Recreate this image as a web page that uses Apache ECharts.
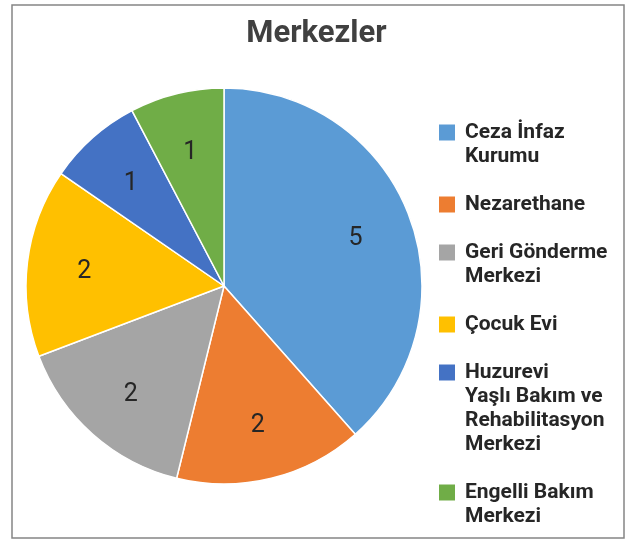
<!DOCTYPE html>
<html>
<head>
<meta charset="utf-8">
<title>Merkezler</title>
<script src="https://cdn.jsdelivr.net/npm/echarts@6/dist/echarts.min.js"></script>
<style>
    html, body { margin: 0; padding: 0; background: #fff; }
    #chart { width: 633px; height: 540px; }
</style>
</head>
<body>
<div id="chart"></div>
<script>
// veriler
const categories = [
    "Ceza İnfaz Kurumu",
    "Nezarethane",
    "Geri Gönderme Merkezi",
    "Çocuk Evi",
    "Huzurevi Yaşlı Bakım ve Rehabilitasyon Merkezi",
    "Engelli Bakım Merkezi"
];
// lejantta satırlara bölünmüş hali
const legendLines = [
    ["Ceza İnfaz", "Kurumu"],
    ["Nezarethane"],
    ["Geri Gönderme", "Merkezi"],
    ["Çocuk Evi"],
    ["Huzurevi", "Yaşlı Bakım ve", "Rehabilitasyon", "Merkezi"],
    ["Engelli Bakım", "Merkezi"]
];
const values = [5, 2, 2, 2, 1, 1];
const colors = ["#5B9BD5", "#ED7D31", "#A5A5A5", "#FFC000", "#4472C4", "#70AD47"];

(function () {
    let myChart = echarts.init(document.getElementById("chart"));
    const cx = 224, cy = 286;
    const lineH = 24;
    const gap = 24;

    // her kategori için ayrı lejant: ikon ilk satırla aynı hizada
    let legends = [];
    let top = 120.5;
    categories.forEach(function (name, i) {
        const n = legendLines[i].length;
        const h = n * lineH;
        legends.push({
            orient: "vertical",
            left: 439,
            top: top,
            padding: 0,
            itemWidth: 16,
            itemHeight: h,
            // kare üstte, alttaki boşluk sadece sınır için
            icon: "path://M0,0M16," + h + "M0," + (lineH - 16) / 2 + "h16v16h-16z",
            itemStyle: { borderWidth: 0 },
            selectedMode: false,
            data: [name],
            formatter: function () {
                return legendLines[i].join("\n");
            },
            textStyle: {
                fontFamily: "Roboto",
                fontSize: 21,
                fontWeight: "bold",
                lineHeight: lineH,
                color: "#262626",
                padding: [0, 0, 0, 5]
            }
        });
        top += h + gap;
    });

    let option = {
        animation: false,
        color: colors,
        title: {
            text: "Merkezler",
            left: "center",
            top: 19,
            padding: 0,
            textStyle: {
                fontFamily: "Roboto",
                fontSize: 31,
                fontWeight: "bold",
                color: "#404040"
            }
        },
        legend: legends,
        graphic: [
            {
                type: "rect",
                shape: { x: 12, y: 5, width: 612, height: 533 },
                style: { fill: "none", stroke: "#858585", lineWidth: 1.5 },
                silent: true
            }
        ],
        series: [
            {
                type: "pie",
                center: [cx, cy],
                radius: [0, 198],
                startAngle: 90,
                clockwise: true,
                data: categories.map(function (name, i) {
                    return { name: name, value: values[i] };
                }),
                itemStyle: {
                    borderColor: "#fff",
                    borderWidth: 1.5
                },
                label: {
                    show: true,
                    position: "inside",
                    formatter: "{c}",
                    fontFamily: "Roboto",
                    fontSize: 25,
                    color: "#262626"
                },
                // etiketleri biraz dışarı it (Excel gibi)
                labelLayout: function (p) {
                    const lx = p.labelRect.x + p.labelRect.width / 2;
                    const ly = p.labelRect.y + p.labelRect.height / 2;
                    return {
                        x: cx + (lx - cx) * 1.38,
                        y: cy + (ly - cy) * 1.38 + 3
                    };
                },
                emphasis: { scale: false }
            }
        ]
    };

    myChart.setOption(option);
    window.addEventListener("resize", function () {
        myChart.resize();
    });
})();
</script>
</body>
</html>
